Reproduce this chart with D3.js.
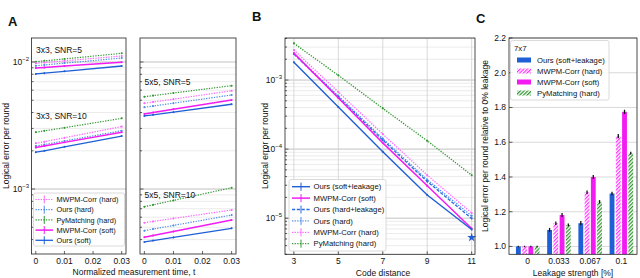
<!DOCTYPE html>
<html>
<head>
<meta charset="utf-8">
<script src="https://cdn.jsdelivr.net/npm/d3@7"></script>
<style>
body { margin: 0; background: #fff; }
svg { display: block; font-family: "Liberation Sans", Arial, sans-serif; }
</style>
</head>
<body>
<script>
// ---- panel A: logical error vs normalized measurement time ----
var timesA = [0, 0.003, 0.01, 0.03];
var seriesA = ["MWPM-Corr (hard)", "Ours (hard)", "PyMatching (hard)", "MWPM-Corr (soft)", "Ours (soft)"];
// rows follow seriesA
var d3x3snr5 = [
  [9.77e-3, 9.90e-3, 1.021e-2, 1.115e-2],
  [9.35e-3, 9.48e-3, 9.80e-3, 1.075e-2],
  [1.005e-2, 1.021e-2, 1.057e-2, 1.171e-2],
  [8.97e-3, 9.06e-3, 9.29e-3, 9.95e-3],
  [8.05e-3, 8.17e-3, 8.45e-3, 9.30e-3]
];
var d3x3snr10 = [
  [2.29e-3, 2.36e-3, 2.53e-3, 3.10e-3],
  [2.18e-3, 2.24e-3, 2.39e-3, 2.88e-3],
  [2.80e-3, 2.87e-3, 3.04e-3, 3.60e-3],
  [2.12e-3, 2.18e-3, 2.33e-3, 2.80e-3],
  [1.95e-3, 2.00e-3, 2.15e-3, 2.61e-3]
];
var d5x5snr5 = [
  [4.73e-3, 4.84e-3, 5.10e-3, 5.94e-3],
  [4.40e-3, 4.50e-3, 4.74e-3, 5.50e-3],
  [5.33e-3, 5.44e-3, 5.70e-3, 6.51e-3],
  [3.90e-3, 4.00e-3, 4.24e-3, 5.02e-3],
  [3.76e-3, 3.84e-3, 4.03e-3, 4.65e-3]
];
var d5x5snr10 = [
  [5.43e-4, 5.56e-4, 5.87e-4, 6.84e-4],
  [4.70e-4, 4.84e-4, 5.17e-4, 6.24e-4],
  [7.26e-4, 7.51e-4, 8.14e-4, 1.024e-3],
  [4.17e-4, 4.30e-4, 4.63e-4, 5.70e-4],
  [3.83e-4, 3.93e-4, 4.16e-4, 4.91e-4]
];
var ticksA = [0, 0.01, 0.02, 0.03];
var tickLabelsA = ["0", "0.01", "0.02", "0.03"];

// ---- panel B: logical error vs code distance ----
var distB = [3, 5, 7, 9, 11];
var seriesB = ["Ours (soft+leakage)", "MWPM-Corr (soft)", "Ours (hard+leakage)", "Ours (hard)", "MWPM-Corr (hard)", "PyMatching (hard)"];
var valsB = [
  [1.81e-3, 4.06e-4, 9.14e-5, 2.16e-5, 6.86e-6],
  [2.45e-3, 5.50e-4, 1.23e-4, 2.95e-5, 7.10e-6],
  [2.38e-3, 5.66e-4, 1.35e-4, 3.40e-5, 9.90e-6],
  [2.42e-3, 5.90e-4, 1.42e-4, 3.60e-5, 1.08e-5],
  [2.72e-3, 6.70e-4, 1.65e-4, 4.20e-5, 1.19e-5],
  [3.40e-3, 1.17e-3, 3.89e-4, 1.32e-4, 4.20e-5]
];
var starB = [11, 5.25e-6];

// ---- panel C: relative error vs leakage strength ----
var leakC = ["0", "0.033", "0.067", "0.1"];
var seriesC = ["Ours (soft+leakage)", "MWPM-Corr (hard)", "MWPM-Corr (soft)", "PyMatching (hard)"];
var valsC = [
  [1.0, 1.095, 1.134, 1.305],
  [1.0, 1.134, 1.312, 1.635],
  [1.0, 1.181, 1.400, 1.775],
  [1.0, 1.124, 1.257, 1.537]
];
var errC = [
  [0.004, 0.012, 0.012, 0.010],
  [0.004, 0.010, 0.010, 0.012],
  [0.004, 0.012, 0.012, 0.012],
  [0.004, 0.008, 0.010, 0.008]
];

// ---- styles ----
var BLUE = "#1f5fd6", MAG = "#f21cf2", PINK = "#ff66ff", LBLUE = "#4d8ce8", DBLUE = "#2b6be0", GREEN = "#339933";
var styleA = [
  { c: PINK, dash: "1.3,1.3", w: 1.2 },
  { c: LBLUE, dash: "1.3,1.3", w: 1.2 },
  { c: GREEN, dash: "1.3,1.3", w: 1.2 },
  { c: MAG, dash: null, w: 1.5 },
  { c: BLUE, dash: null, w: 1.3 }
];
var styleB = [
  { c: BLUE, dash: null, w: 1.4 },
  { c: MAG, dash: null, w: 1.5 },
  { c: DBLUE, dash: "3.2,1.6", w: 1.3 },
  { c: LBLUE, dash: "1.3,1.3", w: 1.3 },
  { c: PINK, dash: "1.3,1.3", w: 1.3 },
  { c: GREEN, dash: "1.3,1.3", w: 1.3 }
];
var fillC = [BLUE, "url(#hatchPink)", MAG, "url(#hatchGreen)"];

var W = 640, H = 278;
var svg = d3.select("body").append("svg").attr("width", W).attr("height", H);

var defs = svg.append("defs");
function hatch(id, col) {
  var p = defs.append("pattern").attr("id", id).attr("patternUnits", "userSpaceOnUse")
    .attr("width", 2.6).attr("height", 2.6).attr("patternTransform", "rotate(45)");
  p.append("rect").attr("width", 2.6).attr("height", 2.6).attr("fill", "#fff");
  p.append("line").attr("x1", 0.6).attr("y1", 0).attr("x2", 0.6).attr("y2", 2.6)
    .attr("stroke", col).attr("stroke-width", 1.3);
}
hatch("hatchPink", "#ff33ff");
hatch("hatchGreen", "#2f962f");

function frame(g, x0, y0, x1, y1) {
  g.append("rect").attr("x", x0).attr("y", y0).attr("width", x1 - x0).attr("height", y1 - y0)
    .attr("fill", "none").attr("stroke", "#222").attr("stroke-width", 0.8);
}

function isMajor(v) {
  var l = Math.log10(v);
  return Math.abs(l - Math.round(l)) < 1e-6;
}

function supLabel(g, x, y, exp) {
  var t = g.append("text").attr("x", x).attr("y", y + 3).attr("text-anchor", "end")
    .attr("font-size", 8.5).attr("fill", "#111");
  t.append("tspan").text("10");
  t.append("tspan").attr("dy", -4).attr("font-size", 6).text("\u2212" + exp);
}

// horizontal log grid + inward ticks
function logY(g, y, x0, x1, labelX) {
  y.ticks().forEach(function(v) {
    var maj = isMajor(v), yy = y(v);
    g.append("line").attr("x1", x0).attr("x2", x1).attr("y1", yy).attr("y2", yy)
      .attr("stroke", maj ? "#a8a8a8" : "#e3e3e3").attr("stroke-width", 0.7);
    g.append("line").attr("x1", x0).attr("x2", x0 + (maj ? 3.5 : 2)).attr("y1", yy).attr("y2", yy)
      .attr("stroke", "#222").attr("stroke-width", 0.7);
    if (maj && labelX != null) supLabel(g, labelX, yy, -Math.round(Math.log10(v)));
  });
}

function xTicks(g, x, vals, labels, y1, withGrid, y0) {
  vals.forEach(function(v, i) {
    var xx = x(v);
    if (withGrid) g.append("line").attr("x1", xx).attr("x2", xx).attr("y1", y0).attr("y2", y1)
      .attr("stroke", "#cfcfcf").attr("stroke-width", 0.8);
    g.append("line").attr("x1", xx).attr("x2", xx).attr("y1", y1).attr("y2", y1 - 3)
      .attr("stroke", "#222").attr("stroke-width", 0.7);
    g.append("text").attr("x", xx).attr("y", y1 + 9.5).attr("text-anchor", "middle")
      .attr("font-size", 8.5).attr("fill", "#111").text(labels[i]);
  });
}

function series(g, x, y, xs, ys, st, errFrac) {
  var pts = xs.map(function(d, i) { return [d, ys[i]]; });
  var line = d3.line().x(function(d) { return x(d[0]); }).y(function(d) { return y(d[1]); });
  g.append("path").attr("d", line(pts)).attr("fill", "none").attr("stroke", st.c)
    .attr("stroke-width", st.w).attr("stroke-dasharray", st.dash);
  pts.forEach(function(d) {
    g.append("line").attr("x1", x(d[0])).attr("x2", x(d[0]))
      .attr("y1", y(d[1] * (1 + errFrac))).attr("y2", y(d[1] * (1 - errFrac)))
      .attr("stroke", st.c).attr("stroke-width", 0.9);
    g.append("circle").attr("cx", x(d[0])).attr("cy", y(d[1])).attr("r", 1).attr("fill", st.c);
  });
}

function legendHandle(g, x0, x1, yy, st, errbar) {
  g.append("line").attr("x1", x0).attr("x2", x1).attr("y1", yy).attr("y2", yy)
    .attr("stroke", st.c).attr("stroke-width", st.w).attr("stroke-dasharray", st.dash);
  if (errbar) g.append("line").attr("x1", (x0 + x1) / 2).attr("x2", (x0 + x1) / 2)
    .attr("y1", yy - 4).attr("y2", yy + 4).attr("stroke", st.c).attr("stroke-width", 1);
}

function legendBox(g, x0, y0, x1, y1) {
  g.append("rect").attr("x", x0).attr("y", y0).attr("width", x1 - x0).attr("height", y1 - y0)
    .attr("rx", 2).attr("fill", "#fff").attr("fill-opacity", 0.85)
    .attr("stroke", "#d0d0d0").attr("stroke-width", 0.8);
}

function panelLetter(x, y, s) {
  svg.append("text").attr("x", x).attr("y", y).attr("font-size", 13).attr("font-weight", "bold")
    .attr("fill", "#111").text(s);
}

// ================= Panel A =================
var gA = svg.append("g");
var yA = d3.scaleLog().domain([3.08e-4, 0.01545]).range([254, 38]);
var xA1 = d3.scaleLinear().domain([-0.0015, 0.0315]).range([31.5, 126]);
var xA2 = d3.scaleLinear().domain([-0.0015, 0.0315]).range([140, 236]);

[[xA1, [d3x3snr5, d3x3snr10], 29, ["3x3, SNR=5", "3x3, SNR=10"], [52.5, 119]],
 [xA2, [d5x5snr5, d5x5snr10], null, ["5x5, SNR=5", "5x5, SNR=10"], [85, 198]]].forEach(function(p) {
  var x = p[0], r = x.range();
  logY(gA, yA, r[0], r[1], p[2]);
  xTicks(gA, x, ticksA, tickLabelsA, 254, false);
  p[1].forEach(function(grp, gi) {
    // draw hard (dotted) series first, soft on top
    [2, 0, 1, 3, 4].forEach(function(si) {
      series(gA, x, yA, timesA, grp[si], styleA[si], 0.012);
    });
    gA.append("text").attr("x", r[0] + 4.5).attr("y", p[4][gi]).attr("font-size", 8.5)
      .attr("fill", "#111").text(p[3][gi]);
  });
  frame(gA, r[0], 38, r[1], 254);
});

// legend A
legendBox(gA, 33.5, 193, 124.5, 246);
seriesA.forEach(function(s, i) {
  var yy = 199.5 + i * 10.2;
  legendHandle(gA, 35.5, 53, yy, styleA[i], true);
  gA.append("text").attr("x", 56.5).attr("y", yy + 2.6).attr("font-size", 7.3).attr("fill", "#111").text(s);
});

gA.append("text").attr("transform", "translate(8.5,146) rotate(-90)").attr("text-anchor", "middle")
  .attr("font-size", 8.5).attr("fill", "#111").text("Logical error per round");
gA.append("text").attr("x", 134).attr("y", 274.5).attr("text-anchor", "middle")
  .attr("font-size", 8.5).attr("fill", "#111").text("Normalized measurement time, t");
panelLetter(8, 26, "A");

// ================= Panel B =================
var gB = svg.append("g");
var xB = d3.scaleLinear().domain([2.6, 11.15]).range([285, 475]);
var yB = d3.scaleLog().domain([3.0e-6, 4.06e-3]).range([254.3, 38]);
logY(gB, yB, 285, 475, 282);
xTicks(gB, xB, distB, distB.map(String), 254.3, true, 38);
[5, 4, 3, 2, 1, 0].forEach(function(si) {
  series(gB, xB, yB, distB, valsB[si], styleB[si], 0.03);
});
gB.append("path").attr("d", d3.symbol().type(d3.symbolStar).size(26)())
  .attr("transform", "translate(" + xB(starB[0]) + "," + yB(starB[1]) + ")").attr("fill", BLUE);
frame(gB, 285, 38, 475, 254.3);

legendBox(gB, 289, 179.5, 386, 251);
seriesB.forEach(function(s, i) {
  var yy = 186.7 + i * 11.4;
  legendHandle(gB, 292, 310, yy, styleB[i], true);
  gB.append("text").attr("x", 313.5).attr("y", yy + 2.7).attr("font-size", 7.7).attr("fill", "#111").text(s);
});
gB.append("text").attr("transform", "translate(268,146) rotate(-90)").attr("text-anchor", "middle")
  .attr("font-size", 8.5).attr("fill", "#111").text("Logical error per round");
gB.append("text").attr("x", 383).attr("y", 275.5).attr("text-anchor", "middle")
  .attr("font-size", 8.5).attr("fill", "#111").text("Code distance");
panelLetter(252, 21, "B");

// ================= Panel C =================
var gC = svg.append("g");
var xC = d3.scaleLinear().domain([-0.6, 3.5]).range([509, 637]);
var yC = d3.scaleLinear().domain([0.955, 2.2]).range([254.3, 38]);
var barW = 0.155, barStep = 0.2;
yC.ticks(7).forEach(function(v) {
  var yy = yC(v);
  gC.append("line").attr("x1", 509).attr("x2", 637).attr("y1", yy).attr("y2", yy)
    .attr("stroke", "#cfcfcf").attr("stroke-width", 0.8);
  gC.append("line").attr("x1", 509).attr("x2", 512.5).attr("y1", yy).attr("y2", yy)
    .attr("stroke", "#222").attr("stroke-width", 0.7);
  gC.append("text").attr("x", 506).attr("y", yy + 3).attr("text-anchor", "end")
    .attr("font-size", 8.5).attr("fill", "#111").text(v.toFixed(1));
});
leakC.forEach(function(l, gi) {
  gC.append("text").attr("x", xC(gi)).attr("y", 264).attr("text-anchor", "middle")
    .attr("font-size", 8.5).attr("fill", "#111").text(l);
});
valsC.forEach(function(vals, si) {
  vals.forEach(function(v, gi) {
    var xc = xC(gi + (si - 1.5) * barStep);
    var bw = xC(barW) - xC(0);
    gC.append("rect").attr("x", xc - bw / 2).attr("y", yC(v)).attr("width", bw)
      .attr("height", yC(0.955) - yC(v)).attr("fill", fillC[si]);
    gC.append("line").attr("x1", xc).attr("x2", xc)
      .attr("y1", yC(v + errC[si][gi])).attr("y2", yC(v - errC[si][gi]))
      .attr("stroke", "#111").attr("stroke-width", 1.3);
  });
});
frame(gC, 509, 38, 637, 254.3);

legendBox(gC, 510.5, 40.5, 609, 100);
gC.append("text").attr("x", 514).attr("y", 51).attr("font-size", 7.8).attr("fill", "#111").text("7x7");
seriesC.forEach(function(s, i) {
  var yy = 60 + i * 11;
  gC.append("rect").attr("x", 517).attr("y", yy - 2.5).attr("width", 14).attr("height", 5).attr("fill", fillC[i]);
  gC.append("text").attr("x", 537).attr("y", yy + 2.7).attr("font-size", 7.7).attr("fill", "#111").text(s);
});
gC.append("text").attr("transform", "translate(488,146) rotate(-90)").attr("text-anchor", "middle")
  .attr("font-size", 8.5).attr("fill", "#111").text("Logical error per round relative to 0% leakage");
gC.append("text").attr("x", 573).attr("y", 275.5).attr("text-anchor", "middle")
  .attr("font-size", 8.5).attr("fill", "#111").text("Leakage strength [%]");
panelLetter(476, 23, "C");
</script>
</body>
</html>
